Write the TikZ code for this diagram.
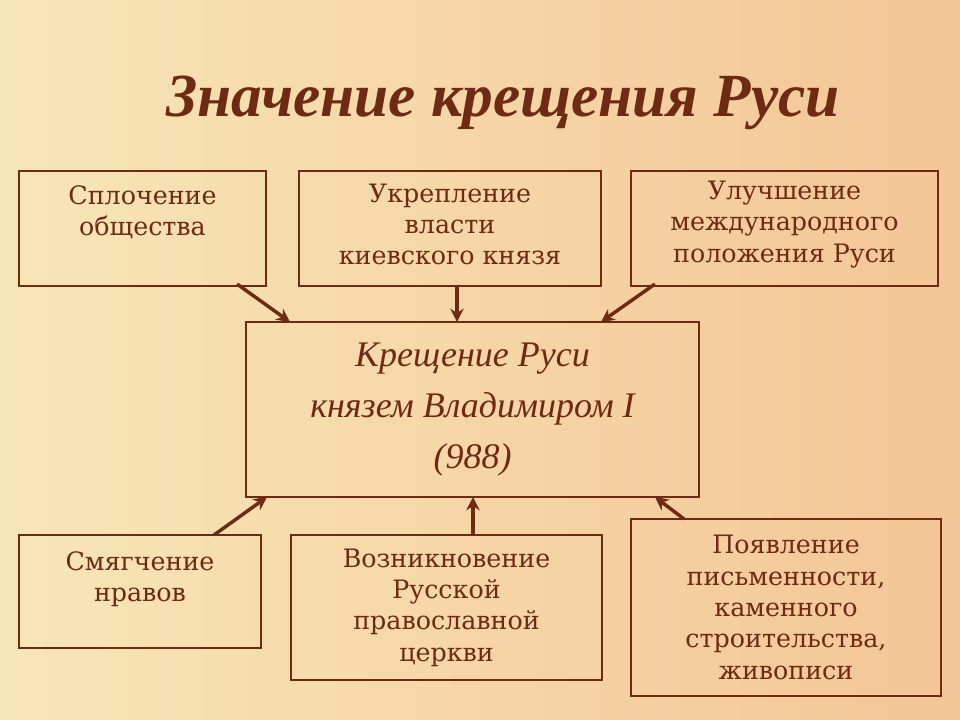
\documentclass[tikz,border=0pt]{standalone}
\usepackage{fontspec}
\setmainfont{DejaVu Serif}
\newfontfamily\titlefont{Liberation Serif}
\usetikzlibrary{arrows.meta}
\definecolor{brn}{HTML}{6E2A12}
\definecolor{bgA}{HTML}{F7E6B6}
\definecolor{bgB}{HTML}{F4C597}
\begin{document}
\begin{tikzpicture}[x=0.75pt,y=-0.75pt,
  box/.style={draw=brn,line width=0.8pt},
  txt/.style={text=brn,align=center,font=\fontsize{19}{23.5}\selectfont},
  arr/.style={draw=brn,line width=2.6pt,-{Stealth[length=10pt,width=10pt]}}]
\shade[shading angle=60,left color=bgA,right color=bgB] (0,0) rectangle (960,720);
\useasboundingbox (0,0) rectangle (960,720);
\node (title)[text=brn,font=\titlefont\bfseries\itshape\fontsize{46}{50}\selectfont] at (503,103) {Значение крещения Руси};
\draw[box] (19,171) rectangle (266,286) node[midway,txt,yshift=12pt] (b1) {Сплочение\\общества};
\draw[box] (299,171) rectangle (601,286) node[midway,txt,yshift=3pt] (b2) {Укрепление\\власти\\киевского князя};
\draw[box] (631,171) rectangle (938,286) node[midway,txt,yshift=3pt] (b3) {Улучшение\\международного\\положения Руси};
\draw[box] (246,322) rectangle (699,497) node[midway,text=brn,align=center,font=\titlefont\itshape\fontsize{27}{38}\selectfont] (c) {Крещение Руси\\князем Владимиром I\\(988)};
\draw[box] (19,535) rectangle (261,648) node[midway,txt,yshift=9pt] (b4) {Смягчение\\нравов};
\draw[box] (291,535) rectangle (602,680) node[midway,txt] (b5) {Возникновение\\Русской\\православной\\церкви};
\draw[box] (631,519) rectangle (941,696) node[midway,txt] (b6) {Появление\\письменности,\\каменного\\строительства,\\живописи};
\coordinate (a1) at (237,284); \coordinate (e1) at (290,322);
\coordinate (a2) at (457,286); \coordinate (e2) at (457,322);
\coordinate (a3) at (655,284); \coordinate (e3) at (601,322);
\coordinate (a4) at (214,535); \coordinate (e4) at (267,497);
\coordinate (a5) at (473,535); \coordinate (e5) at (473,497);
\coordinate (a6) at (684,519); \coordinate (e6) at (655,497);
\foreach \i in {1,...,6} \draw[arr] (a\i) -- (e\i);
\end{tikzpicture}
\end{document}
